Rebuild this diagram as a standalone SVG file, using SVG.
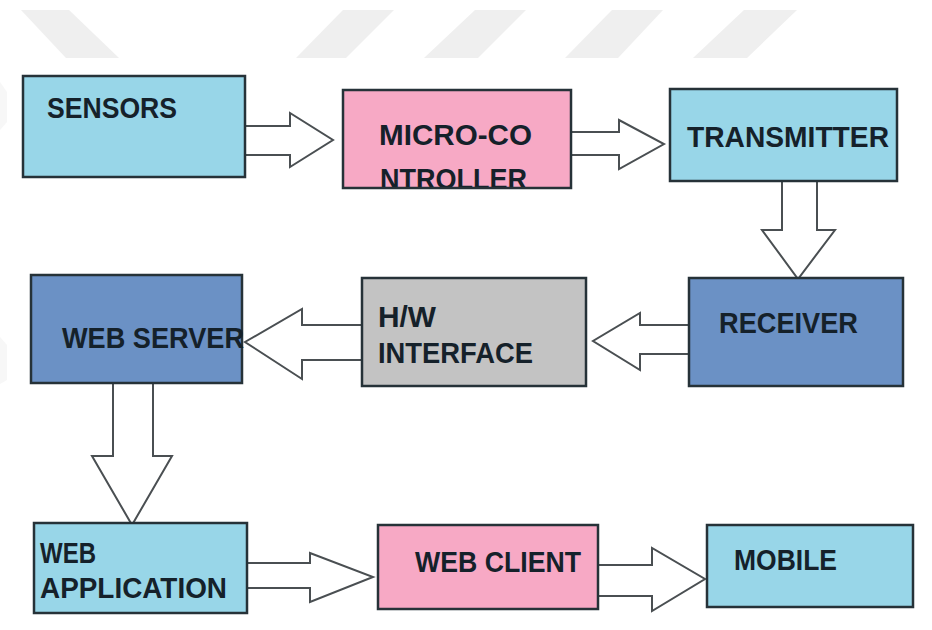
<svg xmlns="http://www.w3.org/2000/svg" width="932" height="630" viewBox="0 0 932 630">
  <style>
    .box { stroke: #263238; stroke-width: 2.5; }
    .outline { fill: none; stroke: #263238; stroke-width: 2.5; }
    .cyan { fill: #98d6e8; }
    .pink { fill: #f7a9c5; }
    .steel { fill: #6b91c5; }
    .grey { fill: #c3c3c3; }
    .label { font-family: "Liberation Sans", Arial, sans-serif; font-weight: bold; font-size: 29px; fill: #15212a; }
    .flow { fill: #ffffff; stroke: #4a4f52; stroke-width: 2; stroke-linejoin: miter; }
    .mark { fill: #efefef; }
  </style>

  <rect width="932" height="630" fill="#ffffff"/>

  <!-- faint background stripes -->
  <g id="backdrop">
    <polygon class="mark" points="21,10 69,10 119,58 66,58"/>
    <polygon class="mark" points="343,10 394,10 346,58 296,58"/>
    <polygon class="mark" points="475,10 526,10 478,58 424,58"/>
    <polygon class="mark" points="612,10 663,10 618,58 565,58"/>
    <polygon class="mark" points="744,10 797,10 747,58 693,58"/>
    <polygon class="mark" points="0,82 7,92 7,122 0,130" opacity="0.5"/>
    <polygon class="mark" points="0,337 7,345 7,380 0,384" opacity="0.5"/>
  </g>

  <!-- block arrows between stages -->
  <g id="connectors">
    <polygon class="flow" points="245,126 290,126 290,113 333,140 290,167 290,155 245,155"/>
    <polygon class="flow" points="571,132 619,132 619,120 664,144 619,169 619,155 571,155"/>
    <polygon class="flow" points="782,181 782,230 762,230 798,279 835,230 817,230 817,181"/>
    <polygon class="flow" points="689,325 640,325 640,313 593,341 640,370 640,354 689,354"/>
    <polygon class="flow" points="362,325 302,325 302,309 245,342 302,379 302,360 362,360"/>
    <polygon class="flow" points="113,382 113,456 92,456 132,525 172,456 153,456 153,382"/>
    <polygon class="flow" points="247,563 310,563 310,553 373,577 310,602 310,588 247,588"/>
    <polygon class="flow" points="597,565 652,565 652,548 705,579 652,611 652,596 597,596"/>
  </g>

  <g id="sensors">
    <rect class="box cyan" x="23" y="76" width="222" height="101"/>
    <text class="label" x="47" y="118" textLength="130" lengthAdjust="spacingAndGlyphs">SENSORS</text>
  </g>

  <g id="microcontroller">
    <rect class="pink" x="343" y="90" width="228" height="98"/>
    <text class="label" x="379" y="145" textLength="153" lengthAdjust="spacingAndGlyphs">MICRO-CO</text>
    <text class="label" x="380" y="189" textLength="147" lengthAdjust="spacingAndGlyphs">NTROLLER</text>
    <rect class="outline" x="343" y="90" width="228" height="98"/>
  </g>

  <g id="transmitter">
    <rect class="box cyan" x="670" y="89" width="227" height="92"/>
    <text class="label" x="687" y="147" font-size="30" textLength="202" lengthAdjust="spacingAndGlyphs">TRANSMITTER</text>
  </g>

  <g id="receiver">
    <rect class="box steel" x="689" y="278" width="214" height="108"/>
    <text class="label" x="719" y="333" textLength="139" lengthAdjust="spacingAndGlyphs">RECEIVER</text>
  </g>

  <g id="hw-interface">
    <rect class="box grey" x="362" y="278" width="224" height="108"/>
    <text class="label" x="378" y="327" font-size="31" textLength="58" lengthAdjust="spacingAndGlyphs">H/W</text>
    <text class="label" x="378" y="363" font-size="31" textLength="155" lengthAdjust="spacingAndGlyphs">INTERFACE</text>
  </g>

  <g id="web-server">
    <rect class="box steel" x="31" y="275" width="211" height="108"/>
    <text class="label" x="62" y="348" font-size="31" textLength="182" lengthAdjust="spacingAndGlyphs">WEB SERVER</text>
  </g>

  <g id="web-application">
    <rect class="box cyan" x="34" y="523" width="213" height="90"/>
    <text class="label" x="40" y="563" textLength="56" lengthAdjust="spacingAndGlyphs">WEB</text>
    <text class="label" x="40" y="598" textLength="187" lengthAdjust="spacingAndGlyphs">APPLICATION</text>
  </g>

  <g id="web-client">
    <rect class="box pink" x="378" y="525" width="220" height="84"/>
    <text class="label" x="415" y="572" font-size="31" textLength="166" lengthAdjust="spacingAndGlyphs">WEB CLIENT</text>
  </g>

  <g id="mobile">
    <rect class="box cyan" x="707" y="525" width="206" height="82"/>
    <text class="label" x="734" y="570" font-size="31" textLength="103" lengthAdjust="spacingAndGlyphs">MOBILE</text>
  </g>
</svg>
